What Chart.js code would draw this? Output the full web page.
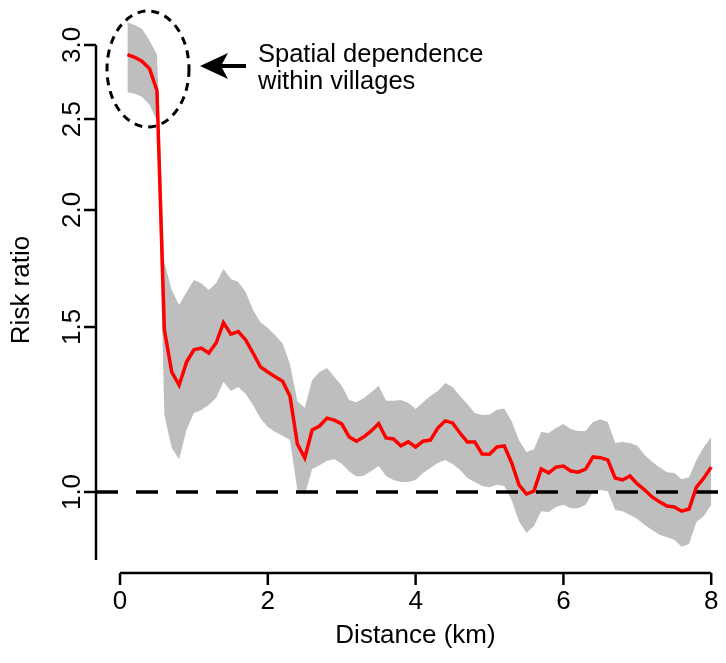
<!DOCTYPE html>
<html>
<head>
<meta charset="utf-8">
<script src="https://cdn.jsdelivr.net/npm/chart.js@4.4.1/dist/chart.umd.min.js"></script>
<style>
  html, body { margin: 0; padding: 0; background: #fff; }
  canvas { display: block; }
</style>
</head>
<body>
<canvas id="chart" width="726" height="663"></canvas>
<script>
// distance (km)
const distance = [
  0.1, 0.2, 0.3, 0.4, 0.5, 0.6, 0.7, 0.8, 0.9, 1.0,
  1.1, 1.2, 1.3, 1.4, 1.5, 1.6, 1.7, 1.8, 1.9, 2.0,
  2.1, 2.2, 2.3, 2.4, 2.5, 2.6, 2.7, 2.8, 2.9, 3.0,
  3.1, 3.2, 3.3, 3.4, 3.5, 3.6, 3.7, 3.8, 3.9, 4.0,
  4.1, 4.2, 4.3, 4.4, 4.5, 4.6, 4.7, 4.8, 4.9, 5.0,
  5.1, 5.2, 5.3, 5.4, 5.5, 5.6, 5.7, 5.8, 5.9, 6.0,
  6.1, 6.2, 6.3, 6.4, 6.5, 6.6, 6.7, 6.8, 6.9, 7.0,
  7.1, 7.2, 7.3, 7.4, 7.5, 7.6, 7.7, 7.8, 7.9, 8.0
];

const riskRatio = [
  2.93, 2.91, 2.88, 2.83, 2.68, 1.49, 1.343, 1.30, 1.376, 1.418,
  1.424, 1.407, 1.442, 1.516, 1.474, 1.483, 1.453, 1.407, 1.36, 1.343,
  1.327, 1.313, 1.265, 1.125, 1.087, 1.165, 1.176, 1.199, 1.193, 1.182,
  1.145, 1.133, 1.145, 1.162, 1.183, 1.142, 1.139, 1.12, 1.131, 1.117,
  1.133, 1.136, 1.17, 1.191, 1.185, 1.156, 1.131, 1.131, 1.098, 1.097,
  1.117, 1.12, 1.074, 1.017, 0.995, 1.002, 1.058, 1.048, 1.063, 1.066,
  1.053, 1.05, 1.058, 1.09, 1.088, 1.082, 1.035, 1.03, 1.04, 1.02,
  1.005, 0.988, 0.976, 0.966, 0.964, 0.954, 0.959, 1.012, 1.035, 1.063
];

const upperCI = [
  3.17, 3.15, 3.12, 3.03, 2.93, 1.76, 1.643, 1.583, 1.635, 1.684,
  1.67, 1.643, 1.67, 1.73, 1.688, 1.675, 1.635, 1.564, 1.518, 1.496,
  1.47, 1.44, 1.37, 1.25, 1.229, 1.317, 1.343, 1.356, 1.327, 1.298,
  1.254, 1.247, 1.26, 1.278, 1.298, 1.251, 1.251, 1.254, 1.245, 1.226,
  1.247, 1.266, 1.282, 1.307, 1.294, 1.266, 1.241, 1.214, 1.208, 1.21,
  1.224, 1.228, 1.19, 1.135, 1.103, 1.111, 1.159, 1.156, 1.17, 1.182,
  1.167, 1.162, 1.162, 1.188, 1.196, 1.188, 1.128, 1.131, 1.128, 1.12,
  1.095, 1.077, 1.063, 1.05, 1.048, 1.032, 1.037, 1.082, 1.117, 1.145
];

const lowerCI = [
  2.67, 2.66, 2.64, 2.59, 2.49, 1.208, 1.114, 1.084, 1.165, 1.214,
  1.223, 1.238, 1.26, 1.31, 1.282, 1.294, 1.272, 1.238, 1.199, 1.173,
  1.159, 1.148, 1.136, 1.005, 0.993, 1.058, 1.068, 1.08, 1.084, 1.072,
  1.052, 1.039, 1.041, 1.053, 1.066, 1.04, 1.03, 1.025, 1.025, 1.03,
  1.048, 1.061, 1.074, 1.082, 1.071, 1.056, 1.035, 1.025, 1.015, 1.012,
  1.018, 1.015, 0.98, 0.93, 0.904, 0.92, 0.954, 0.952, 0.964, 0.969,
  0.961, 0.961, 0.969, 1.0, 1.005, 1.002, 0.957, 0.954, 0.945, 0.936,
  0.922, 0.911, 0.9, 0.895, 0.889, 0.874, 0.88, 0.929, 0.943, 0.969
];

const xTicks = [0, 2, 4, 6, 8];
const yTicks = [1.0, 1.5, 2.0, 2.5, 3.0];
const yTickLabels = ["1.0", "1.5", "2.0", "2.5", "3.0"];
const refLine = 1.0;

const FONT = '"Liberation Sans", Arial, Helvetica, sans-serif';

const pts = (ys) => distance.map((d, i) => ({ x: d, y: ys[i] }));

// R-style detached axes + the annotation in the top left corner
const rAxes = {
  id: "rAxes",
  afterDraw(chart) {
    const { ctx, chartArea, scales } = chart;
    const xs = scales.x, ys = scales.y;
    ctx.save();
    ctx.strokeStyle = "#000";
    ctx.fillStyle = "#000";
    ctx.lineWidth = 2.5;
    ctx.lineCap = "butt";

    // x axis
    const yAx = chartArea.bottom;
    ctx.beginPath();
    ctx.moveTo(xs.getPixelForValue(xTicks[0]), yAx);
    ctx.lineTo(xs.getPixelForValue(xTicks[xTicks.length - 1]), yAx);
    xTicks.forEach(t => {
      const px = xs.getPixelForValue(t);
      ctx.moveTo(px, yAx);
      ctx.lineTo(px, yAx + 12);
    });
    ctx.stroke();
    ctx.font = "26px " + FONT;
    ctx.textAlign = "center";
    ctx.textBaseline = "middle";
    xTicks.forEach(t => ctx.fillText(String(t), xs.getPixelForValue(t), 602));
    ctx.fillText("Distance (km)", (chartArea.left + 735) / 2, 636);

    // y axis
    const xAx = chartArea.left;
    ctx.beginPath();
    ctx.moveTo(xAx, ys.getPixelForValue(yTicks[yTicks.length - 1]));
    ctx.lineTo(xAx, ys.getPixelForValue(0.846));
    yTicks.forEach(t => {
      const py = ys.getPixelForValue(t);
      ctx.moveTo(xAx, py);
      ctx.lineTo(xAx - 12, py);
    });
    ctx.stroke();
    yTicks.forEach((t, i) => {
      ctx.save();
      ctx.translate(73, ys.getPixelForValue(t));
      ctx.rotate(-Math.PI / 2);
      ctx.fillText(yTickLabels[i], 0, 0);
      ctx.restore();
    });
    ctx.save();
    ctx.translate(22, 290);
    ctx.rotate(-Math.PI / 2);
    ctx.fillText("Risk ratio", 0, 0);
    ctx.restore();

    // dashed ellipse round the first points
    ctx.lineWidth = 3;
    ctx.setLineDash([8, 6]);
    ctx.beginPath();
    ctx.ellipse(148, 69, 41, 58, 0, 0, Math.PI * 2);
    ctx.stroke();
    ctx.setLineDash([]);

    // arrow
    ctx.lineWidth = 4;
    ctx.beginPath();
    ctx.moveTo(218, 66);
    ctx.lineTo(246, 66);
    ctx.stroke();
    ctx.beginPath();
    ctx.moveTo(200, 66);
    ctx.lineTo(228, 53);
    ctx.lineTo(221, 66);
    ctx.lineTo(228, 79);
    ctx.closePath();
    ctx.fill();

    ctx.font = "25.5px " + FONT;
    ctx.textAlign = "left";
    ctx.textBaseline = "alphabetic";
    ctx.fillText("Spatial dependence", 258, 62);
    ctx.fillText("within villages", 258, 89);
    ctx.restore();
  }
};

new Chart(document.getElementById("chart"), {
  type: "line",
  data: {
    datasets: [
      {
        label: "Risk ratio",
        data: pts(riskRatio),
        borderColor: "#ff0000",
        borderWidth: 3.5,
        pointRadius: 0,
        tension: 0,
        fill: false
      },
      {
        label: "Reference",
        data: [{ x: -0.325, y: refLine }, { x: 8.2, y: refLine }],
        borderColor: "#000",
        borderWidth: 3.5,
        borderDash: [22, 18],
        pointRadius: 0,
        fill: false
      },
      {
        label: "Upper",
        data: pts(upperCI),
        borderColor: "rgba(0,0,0,0)",
        borderWidth: 0,
        backgroundColor: "#bebebe",
        pointRadius: 0,
        tension: 0,
        fill: "+1"
      },
      {
        label: "Lower",
        data: pts(lowerCI),
        borderColor: "rgba(0,0,0,0)",
        borderWidth: 0,
        pointRadius: 0,
        tension: 0,
        fill: false
      }
    ]
  },
  options: {
    responsive: false,
    animation: false,
    devicePixelRatio: 1,
    layout: { padding: { left: 96, right: 0, top: 0, bottom: 90 } },
    plugins: { legend: { display: false }, tooltip: { enabled: false } },
    scales: {
      x: { type: "linear", min: -0.325, max: 8.2, display: false },
      y: { type: "logarithmic", min: 0.8195, max: 3.35, display: false }
    }
  },
  plugins: [rAxes]
});
</script>
</body>
</html>
